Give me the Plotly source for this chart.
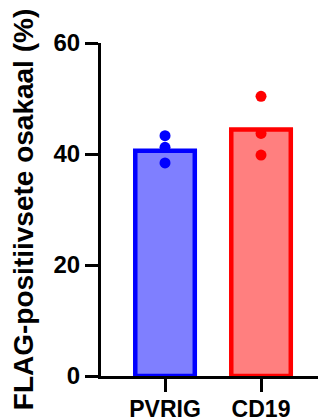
import plotly.graph_objects as go

categories = ["PVRIG", "CD19"]
bar_means = [40.6, 44.4]
pvrig_points = [43.3, 41.2, 38.4]
cd19_points = [50.4, 43.7, 39.8]
y_ticks = [0, 20, 40, 60]

fill_colors = ["#7f7fff", "#ff7f7f"]
edge_colors = ["#0000ff", "#ff0000"]

fig = go.Figure()
fig.add_trace(go.Bar(
    x=categories, y=bar_means, width=0.62,
    marker=dict(color=fill_colors, line=dict(color=edge_colors, width=4.5)),
    showlegend=False, hoverinfo="skip",
))
fig.add_trace(go.Scatter(
    x=[categories[0]] * len(pvrig_points), y=pvrig_points, mode="markers",
    marker=dict(color=edge_colors[0], size=11), showlegend=False,
))
fig.add_trace(go.Scatter(
    x=[categories[1]] * len(cd19_points), y=cd19_points, mode="markers",
    marker=dict(color=edge_colors[1], size=11), showlegend=False,
))

font_family = "Liberation Sans, Arial, sans-serif"
# page body has an 8px margin, so the figure is sized 8px smaller
fig.update_layout(
    width=318, height=411,
    margin=dict(l=93, r=2, t=35, b=43, autoexpand=False),
    plot_bgcolor="white", paper_bgcolor="white",
    font=dict(family=font_family, color="black"),
    xaxis=dict(
        type="category", range=[-0.667, 1.656], automargin=False,
        showline=True, linecolor="black", linewidth=3,
        ticks="outside", ticklen=13, tickwidth=3, tickcolor="black",
        tickfont=dict(size=23, family=font_family, weight="bold"),
        ticklabelstandoff=-3,
        showgrid=False, zeroline=False,
    ),
    yaxis=dict(
        range=[0, 60], tickvals=y_ticks, automargin=False,
        showline=True, linecolor="black", linewidth=3,
        ticks="outside", ticklen=13, tickwidth=3, tickcolor="black",
        tickfont=dict(size=24, family=font_family, weight="bold"),
        showgrid=False, zeroline=False,
        title=dict(text="FLAG-positiivsete osakaal (%)",
                   font=dict(size=28, family=font_family, weight="bold"),
                   standoff=34),
    ),
)

fig.write_html("out.html")
